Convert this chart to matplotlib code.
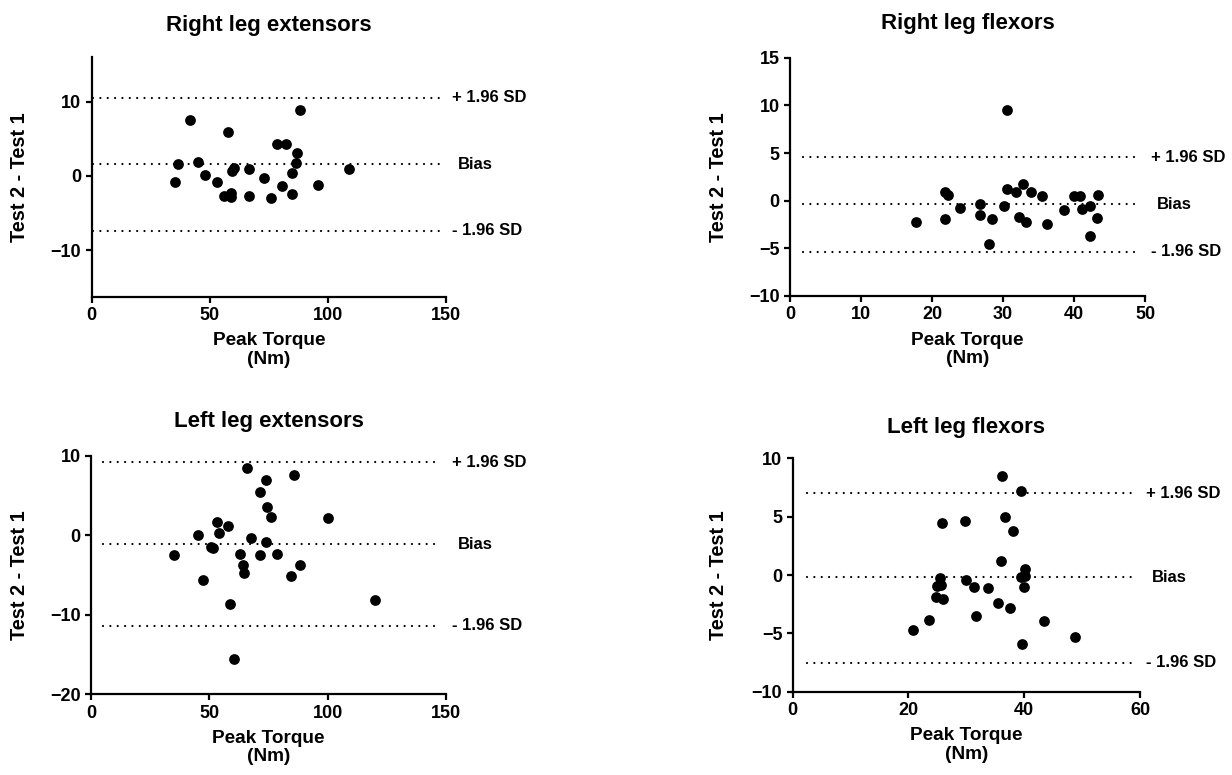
import matplotlib
matplotlib.use("Agg")
import matplotlib.pyplot as plt
import matplotlib.transforms as mtransforms

plt.rcParams['font.family'] = ['Liberation Sans', 'DejaVu Sans']
plt.rcParams['font.weight'] = 'bold'

# ---- data ----
titles = ["Right leg extensors", "Right leg flexors", "Left leg extensors", "Left leg flexors"]

rle_x = [35.3, 36.7, 41.7, 44.8, 48.0, 53.0, 57.9, 56.2, 59.0, 59.0, 59.3, 60.4, 66.7,
         66.7, 73.0, 75.8, 78.5, 82.4, 80.5, 84.6, 84.6, 86.4, 87.1, 88.3, 95.6, 108.9]
rle_y = [-0.85, 1.66, 7.5, 1.84, 0.13, -0.81, 5.89, -2.65, -2.25, -2.83, 0.72, 1.12, 0.94,
         -2.65, -0.22, -2.92, 4.27, 4.36, -1.30, 0.45, -2.39, 1.71, 3.1, 8.85, -1.21, 0.99]

rlf_x = [17.8, 21.9, 21.9, 22.2, 23.9, 26.8, 26.7, 28.4, 28.0, 30.2, 30.6, 30.6, 31.9, 32.8,
         32.3, 33.2, 33.9, 35.5, 36.2, 38.6, 40.0, 40.8, 41.1, 42.3, 42.2, 43.4, 43.3]
rlf_y = [-2.2, -1.89, 0.91, 0.63, -0.73, -0.38, -1.5, -1.89, -4.58, -0.56, 9.55, 1.19, 0.87, 1.71,
         -1.68, -2.2, 0.91, 0.49, -2.41, -1.01, 0.52, 0.52, -0.84, -0.59, -3.67, 0.56, -1.82]

lle_x = [35.2, 45.1, 47.3, 50.6, 51.4, 53.1, 54.2, 58.0, 58.9, 60.6, 63.0, 64.4, 64.8, 65.9,
         67.6, 71.3, 71.4, 73.8, 73.9, 74.5, 75.9, 78.6, 84.5, 85.9, 88.2, 100.1, 120.1]
lle_y = [-2.48, 0.0, -5.67, -1.47, -1.6, 1.64, 0.29, 1.22, -8.7, -15.55, -2.31, -3.78, -4.79, 8.4,
         -0.38, -2.48, 5.38, 6.89, -0.8, 3.61, 2.31, -2.35, -5.08, 7.52, -3.78, 2.14, -8.19]

llf_x = [20.7, 23.5, 24.8, 26.0, 24.9, 25.7, 25.5, 25.8, 29.8, 29.9, 31.3, 31.7, 33.7, 35.5,
         35.9, 36.1, 36.7, 37.6, 38.0, 39.4, 39.5, 40.1, 40.2, 40.0, 39.7, 43.4, 48.8]
llf_y = [-4.73, -3.85, -1.88, -2.05, -0.91, -0.83, -0.23, 4.47, 4.59, -0.43, -1.0, -3.5, -1.08, -2.42,
         1.2, 8.52, 4.99, -2.82, 3.73, 7.18, -0.2, -0.11, 0.48, -1.0, -5.87, -3.93, -5.3]

# limits of agreement: (+1.96 SD, bias, -1.96 SD)
loa = [(10.55, 1.57, -7.41), (4.55, -0.38, -5.35), (9.2, -1.13, -11.4), (7.0, -0.2, -7.53)]
line_labels = ["+ 1.96 SD", "Bias", "- 1.96 SD"]

xlims = [(0, 150), (0, 50), (0, 150), (0, 60)]
xticks = [[0, 50, 100, 150], [0, 10, 20, 30, 40, 50], [0, 50, 100, 150], [0, 20, 40, 60]]
ylims = [(-16.3, 16.1), (-10, 15), (-20, 10), (-10, 10)]
yticks = [[-10, 0, 10], [-10, -5, 0, 5, 10, 15], [-20, -10, 0, 10], [-10, -5, 0, 5, 10]]
line_ext = [(0.5, 148), (1.9, 49.3), (5.0, 147), (2.4, 58.8)]

xs = [rle_x, rlf_x, lle_x, llf_x]
ys = [rle_y, rlf_y, lle_y, llf_y]

W, H = 1232, 775
# pixel boxes: left, right, top, bottom
boxes = [(91.7, 446, 56.7, 296.7), (790, 1145, 57.7, 296), (91, 446, 455.7, 694.3), (792.7, 1140, 458.3, 691.7)]
title_y = [25, 24, 421, 427]
ylabel_x = [29, 728, 29, 728]

fig = plt.figure(figsize=(W / 100, H / 100), dpi=100)
for i in range(4):
    l, r, t, b = boxes[i]
    ax = fig.add_axes([l / W, 1 - b / H, (r - l) / W, (b - t) / H])
    ax.scatter(xs[i], ys[i], s=60, color='black', zorder=3, clip_on=False, linewidths=0)
    x0, x1 = line_ext[i]
    tr = mtransforms.blended_transform_factory(ax.transAxes, ax.transData)
    for val, lab in zip(loa[i], line_labels):
        ax.plot([x0, x1], [val, val], color='black', lw=1.6, linestyle=(0, (0.01, 3.3)),
                dash_capstyle='round', clip_on=False)
        dx = 1.018 if lab != "Bias" else 1.033
        ax.text(dx, val, lab, transform=tr, ha='left', va='center', fontsize=12,
                fontweight='bold', clip_on=False)
    ax.set_xlim(*xlims[i])
    ax.set_ylim(*ylims[i])
    ax.set_xticks(xticks[i])
    ax.set_yticks(yticks[i])
    for s in ['top', 'right']:
        ax.spines[s].set_visible(False)
    for s in ['left', 'bottom']:
        ax.spines[s].set_linewidth(1.6)
    ax.tick_params(width=1.6, length=4, labelsize=13, pad=3.5)
    for lbl in ax.get_xticklabels() + ax.get_yticklabels():
        lbl.set_fontweight('bold')
    ax.set_xlabel("Peak Torque\n(Nm)", fontsize=13.7, fontweight='bold', labelpad=6, linespacing=1.1)
    ax.set_ylabel("Test 2 - Test 1", fontsize=14.3, fontweight='bold')
    ax.yaxis.set_label_coords((ylabel_x[i] - l) / (r - l), 0.5)
    fig.text((l + r) / 2 / W, 1 - title_y[i] / H, titles[i], ha='center', va='center',
             fontsize=16, fontweight='bold')

fig.savefig("out.png", dpi=100)
